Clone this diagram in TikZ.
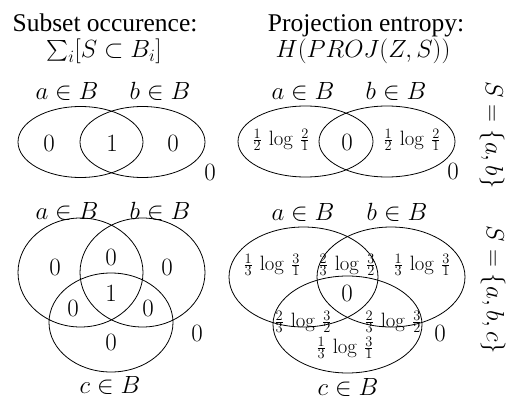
\documentclass[tikz,border=0pt]{standalone}
\usepackage{exscale}
\usepackage[no-math]{fontspec}
\setmainfont{Liberation Serif}
\newcommand{\sfr}[2]{\vcenter{\offinterlineskip\halign{\hfil\fontsize{15}{15}\selectfont$##$\hfil\cr#1\cr\noalign{\kern1pt\hrule height0.8pt\kern1pt}#2\cr}}}
\newcommand{\entr}[4]{\sfr{#1}{#2}\mkern4mu\log\mkern4mu\sfr{#3}{#4}}
\newcommand{\smallsum}{\mathop{\raisebox{1.8pt}{\fontsize{20}{22}\selectfont$\sum$}}\nolimits}
\begin{document}
\begin{tikzpicture}[x=1pt,y=-1pt,
  big/.style={font=\fontsize{25.5}{30}\selectfont, inner sep=0pt},
  ent/.style={font=\fontsize{20}{24}\selectfont, inner sep=0pt},
  venn/.style={draw=black, line width=0.8pt}]
\useasboundingbox (0,0) rectangle (524,409);
% titles
\node[big, anchor=base] (t1) at (105,32) {Subset occurence:};
\node[big, anchor=base] (t2) at (366,32) {Projection entropy:};
\node[big, anchor=base] (m1) at (104,58) {$\smallsum_i[S\subset B_i]$};
\node[big, anchor=base] (m2) at (363,58) {$H(PROJ(Z,S))$};
% top-left
\draw[venn] (80.5,142) ellipse [x radius=62.5pt, y radius=35.5pt];
\draw[venn] (142.5,142) ellipse [x radius=62.5pt, y radius=35.5pt];
\node[big] (tla) at (67,91) {$a\in B$};
\node[big] (tlb) at (160,91) {$b\in B$};
\node[big] (tl1) at (49,143) {$0$};
\node[big] (tl2) at (112,143) {$1$};
\node[big] (tl3) at (173,143) {$0$};
\node[big] (tl4) at (210,172) {$0$};
% top-right
\draw[venn] (305.5,141.5) ellipse [x radius=67.5pt, y radius=35.5pt];
\draw[venn] (387,141.5) ellipse [x radius=68pt, y radius=35.5pt];
\node[big] (tra) at (303,91) {$a\in B$};
\node[big] (trb) at (396,91) {$b\in B$};
\node[ent] (tr1) at (281,140) {$\entr1221$};
\node[big] (tr2) at (347,142) {$0$};
\node[ent] (tr3) at (412,140) {$\entr1221$};
\node[big] (tr4) at (453,171) {$0$};
\node[big, rotate=-90] (s1) at (492,135) {$S=\{a,b\}$};
% bottom-left
\draw[venn] (80.5,272.5) ellipse [x radius=62.5pt, y radius=54.5pt];
\draw[venn] (142.5,272.5) ellipse [x radius=62.5pt, y radius=54.5pt];
\draw[venn] (111,322.5) ellipse [x radius=62pt, y radius=49.5pt];
\node[big] (bla) at (67,211) {$a\in B$};
\node[big] (blb) at (160,211) {$b\in B$};
\node[big] (blc) at (110,385) {$c\in B$};
\node[big] (bl1) at (55,267) {$0$};
\node[big] (bl2) at (111,257) {$0$};
\node[big] (bl3) at (167,267) {$0$};
\node[big] (bl4) at (111,293) {$1$};
\node[big] (bl5) at (73,308) {$0$};
\node[big] (bl6) at (148,308) {$0$};
\node[big] (bl7) at (111,342) {$0$};
\node[big] (bl8) at (197,333) {$0$};
% bottom-right
\draw[venn] (303.5,277) ellipse [x radius=74.5pt, y radius=50pt];
\draw[venn] (391,277) ellipse [x radius=74pt, y radius=50pt];
\draw[venn] (347.5,324.5) ellipse [x radius=74.5pt, y radius=48.5pt];
\node[big] (bra) at (303,212) {$a\in B$};
\node[big] (brb) at (397,212) {$b\in B$};
\node[big] (brc) at (348,387) {$c\in B$};
\node[ent] (br1) at (272,265) {$\entr1331$};
\node[ent] (br2) at (347,265) {$\entr2332$};
\node[ent] (br3) at (422,265) {$\entr1331$};
\node[big] (br4) at (347,293) {$0$};
\node[ent] (br5) at (303,322) {$\entr2332$};
\node[ent] (br6) at (393,322) {$\entr2332$};
\node[ent] (br7) at (345,348) {$\entr1331$};
\node[big] (br8) at (440,333) {$0$};
\node[big, rotate=-90] (s2) at (493,290) {$S=\{a,b,c\}$};
\end{tikzpicture}
\end{document}
